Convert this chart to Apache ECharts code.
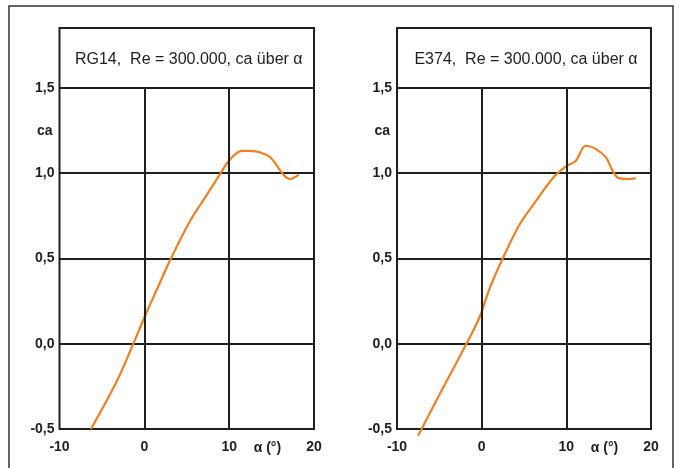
<!DOCTYPE html>
<html>
<head>
<meta charset="utf-8">
<script src="https://cdn.jsdelivr.net/npm/echarts@6/dist/echarts.min.js"></script>
<style>html,body{margin:0;padding:0;background:#fff}#c{width:681px;height:468px}</style>
</head>
<body>
<div id="c"></div>
<script>
// ---- data ----
const titles = ['RG14,  Re = 300.000, ca über α', 'E374,  Re = 300.000, ca über α'];
const alphaRG14 = [-6.3, -3.25, -1.3, 0.1, 1.5, 3.05, 5.4, 7.4, 9.0, 10.1, 11.5, 12.5, 13.7, 14.9, 16.4, 17.2, 18.2];
const caRG14    = [-0.5, -0.22, 0.0, 0.165, 0.32, 0.49, 0.72, 0.875, 1.0, 1.08, 1.13, 1.13, 1.12, 1.09, 0.99, 0.965, 0.99];
const alphaE374 = [-7.5, -4.9, -2.0, -0.25, 0.55, 1.15, 2.4, 4.5, 6.4, 8.4, 10.0, 11.1, 12.3, 13.5, 14.7, 15.5, 16.2, 17.4, 18.2];
const caE374    = [-0.54, -0.29, -0.02, 0.155, 0.27, 0.35, 0.49, 0.70, 0.835, 0.97, 1.04, 1.07, 1.16, 1.14, 1.09, 1.01, 0.97, 0.965, 0.97];
const yTickValues = [-0.5, 0, 0.5, 1.0, 1.5];
const yTickLabels = ['-0,5', '0,0', '0,5', '1,0', '1,5'];
const xTickValues = [-10, 0, 10, 20];
const xTickLabels = ['-10', '0', '10', '20'];
const xInnerGrid = [0, 10];
const xName = 'α (°)';
const xNameAt = 14.5;
const yName = 'ca';
const yNameAt = 1.25;

// ---- chart ----
const FONT = 'Liberation Sans, Arial, sans-serif';
const INK = '#1e1e1e';
const ORANGE = '#EE8024';
const chart = echarts.init(document.getElementById('c'), null, {renderer: 'canvas'});

const grids = [
  {left: 59.5, right: 367, top: 28, bottom: 39},
  {left: 397, right: 30, top: 28, bottom: 39}
];
const series = [[alphaRG14, caRG14], [alphaE374, caE374]];

function yFmt(v) {
  const i = yTickValues.findIndex(t => Math.abs(t - v) < 1e-6);
  return i >= 0 ? yTickLabels[i] : '';
}
function xFmt(v) {
  const i = xTickValues.findIndex(t => Math.abs(t - v) < 1e-6);
  return i >= 0 ? xTickLabels[i] : '';
}

const option = {
  animation: false,
  backgroundColor: '#fff',
  grid: grids.map(g => Object.assign({show: true, borderColor: INK, borderWidth: 2, backgroundColor: 'transparent'}, g)),
  xAxis: grids.map((g, i) => ({
    type: 'value', gridIndex: i, min: -10, max: 20, interval: 10,
    axisLine: {show: false}, axisTick: {show: false}, splitLine: {show: false},
    axisLabel: {formatter: xFmt, color: INK, fontFamily: FONT, fontWeight: 'bold', fontSize: 14, margin: 11}
  })),
  yAxis: grids.map((g, i) => ({
    type: 'value', gridIndex: i, min: -0.5, max: 1.85, interval: 0.5,
    axisLine: {show: false}, axisTick: {show: false},
    splitLine: {show: true, lineStyle: {color: INK, width: 2}},
    axisLabel: {formatter: yFmt, color: INK, fontFamily: FONT, fontWeight: 'bold', fontSize: 14, margin: 5}
  })),
  series: []
};

series.forEach((s, i) => {
  option.series.push({
    type: 'line', xAxisIndex: i, yAxisIndex: i, data: [], z: 1,
    markLine: {
      silent: true, symbol: 'none', label: {show: false},
      lineStyle: {color: INK, width: 2, type: 'solid'},
      data: xInnerGrid.map(x => [{coord: [x, yTickValues[0]]}, {coord: [x, yTickValues[yTickValues.length - 1]]}])
    }
  });
  option.series.push({
    type: 'line', xAxisIndex: i, yAxisIndex: i, z: 3,
    data: s[0].map((a, k) => [a, s[1][k]]),
    smooth: 0.35, showSymbol: false, clip: false,
    lineStyle: {color: ORANGE, width: 2.2}
  });
});

chart.setOption(option);

// labels positioned through the axes' own scales
const graphics = [{
  type: 'rect', shape: {x: 9, y: 6, width: 664, height: 480},
  style: {fill: 'none', stroke: '#333', lineWidth: 1.5}, z: 0, silent: true
}];
series.forEach((s, i) => {
  const tl = chart.convertToPixel({gridIndex: i}, [-10, 1.85]);
  const br = chart.convertToPixel({gridIndex: i}, [20, 1.5]);
  graphics.push({
    type: 'text', x: (tl[0] + br[0]) / 2 + 2, y: (tl[1] + br[1]) / 2 + 2,
    style: {text: titles[i], fill: INK, font: '16px ' + FONT, textAlign: 'center', textVerticalAlign: 'middle'}
  });
  const ca = chart.convertToPixel({gridIndex: i}, [-10, yNameAt]);
  graphics.push({
    type: 'text', x: ca[0] - 7, y: ca[1] + 1,
    style: {text: yName, fill: INK, font: 'bold 14px ' + FONT, textAlign: 'right', textVerticalAlign: 'middle'}
  });
  const an = chart.convertToPixel({gridIndex: i}, [xNameAt, -0.5]);
  graphics.push({
    type: 'text', x: an[0], y: an[1] + 19,
    style: {text: xName, fill: INK, font: 'bold 14px ' + FONT, textAlign: 'center', textVerticalAlign: 'middle'}
  });
});
chart.setOption({graphic: graphics});
</script>
</body>
</html>
